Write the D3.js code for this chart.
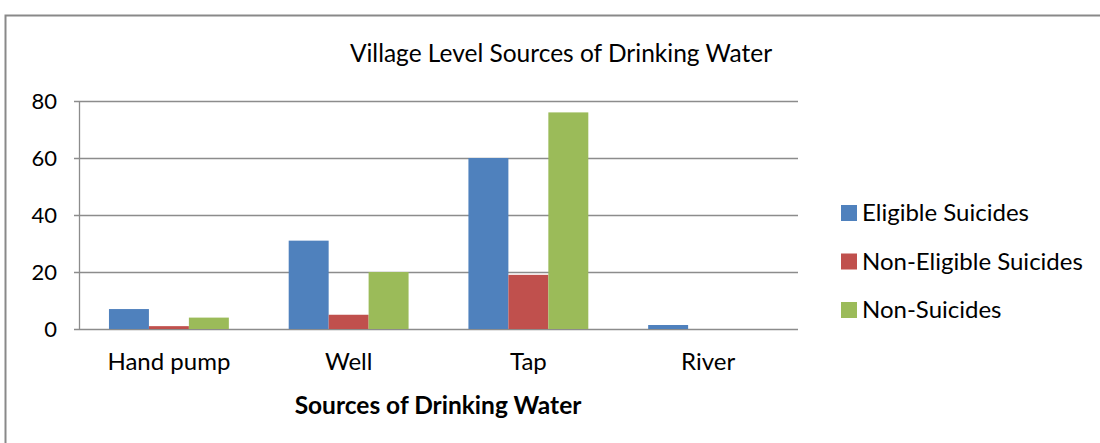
<!DOCTYPE html>
<html>
<head>
<meta charset="utf-8">
<title>Village Level Sources of Drinking Water</title>
<script src="https://d3js.org/d3.v7.min.js"></script>
<style>
  body { margin: 0; background: #fff; }
  text { font-family: Lato, "Open Sans", sans-serif; fill: #000; }
</style>
</head>
<body>
<div id="container"></div>
<script>
//---------------------------DATA---------------------------//
const categories = ["Hand pump", "Well", "Tap", "River"];
const seriesNames = ["Eligible Suicides", "Non-Eligible Suicides", "Non-Suicides"];
const eligible = [7, 31, 60, 1.4];
const nonEligible = [1, 5, 19, 0];
const nonSuicides = [4, 20, 76, 0];
const yTicks = [0, 20, 40, 60, 80];
const colors = ["#4F81BD", "#C0504D", "#9BBB59"];

const values = [eligible, nonEligible, nonSuicides];

//---------------------------SVG----------------------------//
const width = 1100, height = 443;
const plot = {left: 79, right: 798, top: 101, bottom: 329};

const svg = d3.select("#container").append("svg")
    .attr("width", width)
    .attr("height", height);

// outer frame
svg.append("rect")
    .attr("x", 5.5).attr("y", 15.5)
    .attr("width", width + 10).attr("height", height + 10)
    .attr("fill", "none")
    .attr("stroke", "#898989")
    .attr("stroke-width", 2);

//--------------------------SCALES--------------------------//
const x0 = d3.scaleBand().domain(categories).range([plot.left, plot.right]).paddingInner(0.333).paddingOuter(0.1667);
const x1 = d3.scaleBand().domain(seriesNames).range([0, x0.bandwidth()]);
const y = d3.scaleLinear().domain([0, 80]).range([plot.bottom, plot.top]);

//---------------------------GRID---------------------------//
svg.append("g")
    .selectAll("line")
    .data(yTicks)
    .join("line")
    .attr("x1", plot.left - 5).attr("x2", plot.right)
    .attr("y1", d => Math.round(y(d)) + 0.5).attr("y2", d => Math.round(y(d)) + 0.5)
    .attr("stroke", "#8c8c8c")
    .attr("stroke-width", 1.3);

svg.append("line")
    .attr("x1", plot.left + 0.5).attr("x2", plot.left + 0.5)
    .attr("y1", plot.top).attr("y2", plot.bottom)
    .attr("stroke", "#8c8c8c")
    .attr("stroke-width", 1.3);

//---------------------------BARS---------------------------//
seriesNames.forEach((s, si) => {
  svg.append("g")
    .selectAll("rect")
    .data(categories)
    .join("rect")
    .attr("x", (c) => x0(c) + x1(s))
    .attr("width", x1.bandwidth())
    .attr("y", (c, i) => y(values[si][i]))
    .attr("height", (c, i) => y(0) - y(values[si][i]))
    .attr("fill", colors[si]);
});

//---------------------------AXES---------------------------//
const yAxis = d3.axisLeft(y).tickValues(yTicks).tickSize(0).tickPadding(22);
svg.append("g")
    .attr("transform", "translate(" + plot.left + ",0)")
    .call(yAxis)
    .call(g => g.select(".domain").remove())
    .selectAll("text")
    .style("font-size", "22px")
    .style("font-family", "Lato, 'Open Sans', sans-serif");

const xAxis = d3.axisBottom(x0).tickSize(0).tickPadding(24);
svg.append("g")
    .attr("transform", "translate(0," + plot.bottom + ")")
    .call(xAxis)
    .call(g => g.select(".domain").remove())
    .selectAll("text")
    .style("font-size", "24px")
    .style("font-family", "Lato, 'Open Sans', sans-serif");

//--------------------------TITLES--------------------------//
svg.append("text")
    .attr("x", 561).attr("y", 62)
    .attr("text-anchor", "middle")
    .style("font-size", "24.5px")
    .text("Village Level Sources of Drinking Water");

svg.append("text")
    .attr("x", 438).attr("y", 414)
    .attr("text-anchor", "middle")
    .style("font-size", "24.5px")
    .style("font-weight", "bold")
    .text("Sources of Drinking Water");

//--------------------------LEGEND--------------------------//
const legend = svg.append("g")
    .selectAll("g")
    .data(seriesNames)
    .join("g")
    .attr("transform", (d, i) => "translate(841," + (205 + i * 48.5) + ")");

legend.append("rect")
    .attr("width", 16).attr("height", 16)
    .attr("fill", (d, i) => colors[i]);

legend.append("text")
    .attr("x", 21).attr("y", 16)
    .style("font-size", "24px")
    .text(d => d);
</script>
</body>
</html>
